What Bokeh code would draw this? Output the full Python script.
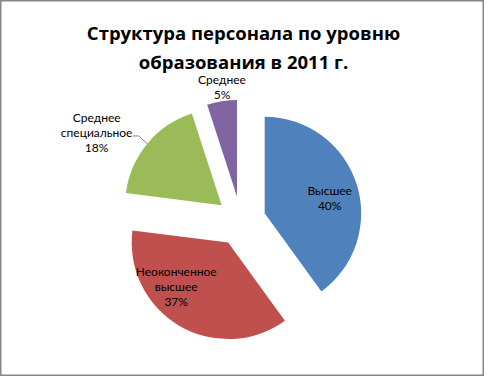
import numpy as np
from bokeh.plotting import figure
from bokeh.models import Range1d, ColumnDataSource
from bokeh.core.properties import value
from bokeh.embed import file_html
from bokeh.resources import INLINE

# ---- data ----
categories = ["Высшее", "Неоконченное высшее", "Среднее специальное", "Среднее"]
label_names = ["Высшее", "Неоконченное\nвысшее", "Среднее\nспециальное", "Среднее"]
shares = [40, 37, 18, 5]
colors = ["#4F81BD", "#C0504D", "#9BBB59", "#8064A2"]
title_lines = ["Структура персонала по уровню", "образования в 2011 г."]

# ---- layout ----
W, H = 484, 376
CX, CY = 240.4, 155.4
R = 96.5
EXPLODE = 25
label_offsets = [(65, 15), (-52, -44), (-125, 73), (-15, 109)]
LS = 15.0
LABEL_FONT = "Lato"
TITLE_FONT = "Open Sans"

frac = np.array(shares, dtype=float) / sum(shares)
ends = np.cumsum(frac) * 360
starts = ends - frac * 360
mids = (starts + ends) / 2
rad = np.deg2rad(mids)
xs = CX + EXPLODE * np.sin(rad)
ys = CY + EXPLODE * np.cos(rad)

src = ColumnDataSource(dict(
    x=xs, y=ys,
    start=90 - starts, end=90 - ends,
    color=colors, cat=categories,
))

p = figure(width=W, height=H, output_backend="svg", toolbar_location=None,
           x_range=Range1d(0, W), y_range=Range1d(0, H), min_border=0)
p.axis.visible = False
p.grid.visible = False
p.outline_line_color = "#878787"
p.outline_line_width = 2
p.background_fill_color = "white"

p.wedge(x="x", y="y", radius=R, start_angle="start", end_angle="end",
        start_angle_units="deg", end_angle_units="deg", direction="clock",
        fill_color="color", line_color=None, source=src)

# data labels, one text per line
tx, ty, tt = [], [], []
for i in range(len(shares)):
    lines = label_names[i].split("\n") + [f"{shares[i]}%"]
    cx = xs[i] + label_offsets[i][0]
    cy = ys[i] + label_offsets[i][1]
    n = len(lines)
    for j, t in enumerate(lines):
        tx.append(cx)
        ty.append(cy + (n - 1) / 2 * LS - j * LS)
        tt.append(t)
p.text(x=tx, y=ty, text=tt, text_font=value(LABEL_FONT), text_font_size="12px",
       text_align="center", text_baseline="middle", text_color="#000000")

# leader line for the green slice
gi = 2
ex = xs[gi] + R * np.sin(rad[gi])
ey = ys[gi] + R * np.cos(rad[gi])
p.line(x=[ex - 14.5, ex - 8.7, ex], y=[ey + 7.7, ey + 7.7, ey],
       line_color="#808080", line_width=1)

# title
p.text(x=[243, 243], y=[344, 314.6], text=title_lines, text_font=value(TITLE_FONT),
       text_font_style="bold", text_font_size="18.5px", text_align="center",
       text_baseline="alphabetic", text_color="#000000")

open("out.html", "w").write(file_html(p, INLINE))
